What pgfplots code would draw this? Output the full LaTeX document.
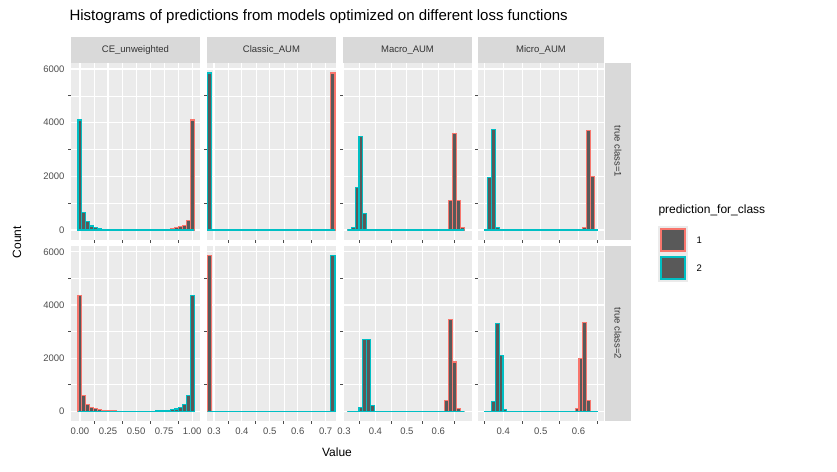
\documentclass[border=0pt]{standalone}
\usepackage{pgfplots}
\pgfplotsset{compat=1.18}
\usepackage{fontspec}
\setmainfont{Liberation Sans}
\definecolor{bg}{HTML}{EBEBEB}
\definecolor{strip}{HTML}{D9D9D9}
\definecolor{rr}{HTML}{F8766D}
\definecolor{cc}{HTML}{00BFC4}
\definecolor{bar}{HTML}{595959}
\definecolor{tk}{HTML}{4D4D4D}
\pgfplotsset{
 panel/.style={scale only axis, anchor=south west, axis line style={draw=none},
  axis background/.style={fill=bg}, grid=both,
  major grid style={white, line width=1.1pt}, minor grid style={white, line width=0.55pt},
  ymin=-373, ymax=6224, ytick={0,2000,4000,6000}, minor ytick={1000,3000,5000},
  yticklabels={}, xticklabels={},
  tick style={tk, line width=0.8pt}, major tick length=3pt, tick align=outside,
  xtick pos=bottom, ytick pos=left,
  major y tick style={draw=none}, major x tick style={draw=none},
  ticklabel style={font=\fontsize{9.5}{10}\selectfont, text=tk},
  /pgf/number format/assume math mode=true},
 leftcol/.style={major y tick style={tk, line width=0.8pt}, yticklabels={0,2000,4000,6000}},
 red/.style={ybar interval, fill=bar, draw=rr, line width=1.1pt},
 cy/.style={ybar interval, fill=bar, draw=cc, line width=1.1pt},
}
\newcommand\botx[1]{major x tick style={tk, line width=0.8pt}, xticklabels={#1}}
\begin{document}
\begin{tikzpicture}
\path[use as bounding box] (0pt,0pt) rectangle (837pt,471pt);
% ---------- CE ----------
\begin{axis}[panel, leftcol, at={(71pt,231pt)}, width=129pt, height=177pt, xmin=-0.08, xmax=1.07,
 xtick={0,0.25,0.5,0.75,1}, minor xtick={0.125,0.375,0.625,0.875}]
\addplot[red] coordinates {(-0.0172,0)(0.6728,5)(0.7073,10)(0.7418,20)(0.7763,30)(0.8108,50)(0.8453,80)(0.8798,120)(0.9143,180)(0.9488,350)(0.9833,4100)(1.0178,0)};
\addplot[cy] coordinates {(-0.0172,4100)(0.0173,650)(0.0518,300)(0.0863,150)(0.1208,100)(0.1553,50)(0.1898,30)(0.2243,20)(0.2588,10)(0.2933,5)(0.3278,0)(1.0178,0)};
\end{axis}
\begin{axis}[panel, leftcol, at={(71pt,50pt)}, width=129pt, height=175pt, xmin=-0.08, xmax=1.07,
 xtick={0,0.25,0.5,0.75,1}, minor xtick={0.125,0.375,0.625,0.875}, \botx{0.00,0.25,0.50,0.75,1.00}]
\addplot[red] coordinates {(-0.0172,4350)(0.0173,600)(0.0518,250)(0.0863,130)(0.1208,90)(0.1553,50)(0.1898,30)(0.2243,20)(0.2588,10)(0.2933,5)(0.3278,0)(1.0178,0)};
\addplot[cy] coordinates {(-0.0172,0)(0.6728,5)(0.7073,10)(0.7418,20)(0.7763,30)(0.8108,50)(0.8453,80)(0.8798,130)(0.9143,250)(0.9488,600)(0.9833,4350)(1.0178,0)};
\end{axis}
% ---------- Classic ----------
\begin{axis}[panel, at={(207pt,231pt)}, width=129pt, height=177pt, xmin=0.275, xmax=0.737,
 xtick={0.3,0.4,0.5,0.6,0.7}, minor xtick={0.35,0.45,0.55,0.65}]
\addplot[red] coordinates {(0.2775,0)(0.7183,5850)(0.7335,0)};
\addplot[cy] coordinates {(0.2775,5850)(0.2927,0)(0.7335,0)};
\end{axis}
\begin{axis}[panel, at={(207pt,50pt)}, width=129pt, height=175pt, xmin=0.275, xmax=0.737,
 xtick={0.3,0.4,0.5,0.6,0.7}, minor xtick={0.35,0.45,0.55,0.65}, \botx{0.3,0.4,0.5,0.6,0.7}]
\addplot[red] coordinates {(0.2775,5850)(0.2927,0)(0.7335,0)};
\addplot[cy] coordinates {(0.2775,0)(0.7183,5850)(0.7335,0)};
\end{axis}
% ---------- Macro ----------
\begin{axis}[panel, at={(343pt,231pt)}, width=129pt, height=177pt, xmin=0.297, xmax=0.707,
 xtick={0.3,0.4,0.5,0.6}, minor xtick={0.35,0.45,0.55,0.65}]
\addplot[red] coordinates {(0.3105,0)(0.6329,1100)(0.6453,3600)(0.6577,1100)(0.6701,100)(0.6825,0)};
\addplot[cy] coordinates {(0.3105,0)(0.3229,100)(0.3353,1600)(0.3477,3500)(0.3601,600)(0.3725,0)(0.6825,0)};
\end{axis}
\begin{axis}[panel, at={(343pt,50pt)}, width=129pt, height=175pt, xmin=0.297, xmax=0.707,
 xtick={0.3,0.4,0.5,0.6}, minor xtick={0.35,0.45,0.55,0.65}, \botx{0.3,0.4,0.5,0.6}]
\addplot[red] coordinates {(0.3105,0)(0.6205,400)(0.6329,3450)(0.6453,1850)(0.6577,100)(0.6701,0)(0.6825,0)};
\addplot[cy] coordinates {(0.3105,0)(0.3477,130)(0.3601,2700)(0.3725,2700)(0.3849,200)(0.3973,0)(0.6825,0)};
\end{axis}
% ---------- Micro ----------
\begin{axis}[panel, at={(478pt,231pt)}, width=126pt, height=177pt, xmin=0.333, xmax=0.668,
 xtick={0.4,0.5,0.6}, minor xtick={0.35,0.45,0.55,0.65}]
\addplot[red] coordinates {(0.349,0)(0.6116,100)(0.6217,3700)(0.6318,2000)(0.6419,0)(0.652,0)};
\addplot[cy] coordinates {(0.349,0)(0.3591,1950)(0.3692,3750)(0.3793,100)(0.3894,0)(0.652,0)};
\end{axis}
\begin{axis}[panel, at={(478pt,50pt)}, width=126pt, height=175pt, xmin=0.333, xmax=0.668,
 xtick={0.4,0.5,0.6}, minor xtick={0.35,0.45,0.55,0.65}, \botx{0.4,0.5,0.6}]
\addplot[red] coordinates {(0.349,0)(0.5914,100)(0.6015,2000)(0.6116,3350)(0.6217,400)(0.6318,0)(0.652,0)};
\addplot[cy] coordinates {(0.349,0)(0.3692,350)(0.3793,3300)(0.3894,2100)(0.3995,60)(0.4096,0)(0.652,0)};
\end{axis}
% ---------- strips ----------
\foreach \x/\w/\t in {71/129/CE\_unweighted, 207/129/Classic\_AUM, 343/129/Macro\_AUM, 478/126/Micro\_AUM}{
 \fill[strip] (\x pt,408pt) rectangle ++(\w pt,26pt);
 \node[text=black!80, font=\fontsize{9.5}{10}\selectfont] at (\x pt+\w pt/2,421pt) {\t};
}
\fill[strip] (605pt,231pt) rectangle (631pt,408pt);
\fill[strip] (605pt,50pt) rectangle (631pt,225pt);
\node[rotate=-90, text=black!80, font=\fontsize{9.5}{10}\selectfont] at (618pt,319.5pt) {true class=1};
\node[rotate=-90, text=black!80, font=\fontsize{9.5}{10}\selectfont] at (618pt,137.5pt) {true class=2};
% ---------- titles ----------
\node[anchor=west, font=\fontsize{15}{16}\selectfont] at (66pt,454pt) {Histograms of predictions from models optimized on different loss functions};
\node[font=\fontsize{12}{13}\selectfont] at (337pt,19pt) {Value};
\node[rotate=90, font=\fontsize{12}{13}\selectfont] at (17pt,229pt) {Count};
% ---------- legend ----------
\node[anchor=west, font=\fontsize{12}{13}\selectfont] at (655pt,261pt) {prediction\_for\_class};
\fill[bg] (658pt,217pt) rectangle (688pt,245pt);
\fill[bg] (658pt,189pt) rectangle (688pt,217pt);
\filldraw[fill=bar, draw=rr, line width=1.1pt] (661pt,220pt) rectangle (685pt,242pt);
\filldraw[fill=bar, draw=cc, line width=1.1pt] (661pt,192pt) rectangle (685pt,214pt);
\node[anchor=west, font=\fontsize{9.5}{10}\selectfont] at (693pt,231pt) {1};
\node[anchor=west, font=\fontsize{9.5}{10}\selectfont] at (693pt,203pt) {2};
\end{tikzpicture}
\end{document}
